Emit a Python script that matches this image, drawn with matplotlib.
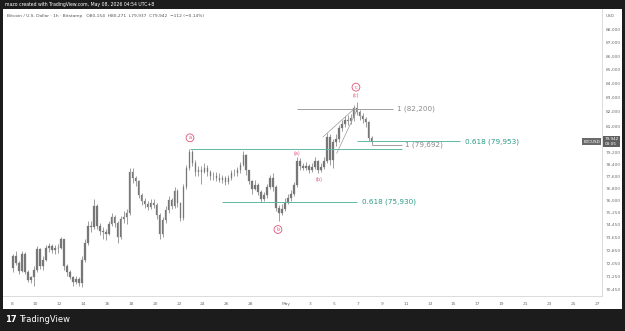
import matplotlib
matplotlib.use('Agg')
import matplotlib.pyplot as plt
from matplotlib.patches import Rectangle
from matplotlib.ticker import FixedLocator, FixedFormatter, NullLocator
from matplotlib.transforms import blended_transform_factory

# ---------------- data (6-hour candles, day 0 = Apr 8 00:00) ----------------
first_open = 71760
closes = [
    72480, 72060, 71580, 72600, 71520, 70990, 71170, 71640, 72910, 71880,
    72240, 72970, 73090, 72850, 72970, 72970, 73520, 71880, 71520, 71170,
    70870, 71050, 70810, 72240, 73270, 74390, 74320, 75650, 74390, 74080,
    74010, 73890, 74510, 74950, 74570, 73700, 74830, 74950, 75200, 77920,
    77460, 77260, 76360, 75970, 75780, 75590, 75840, 75720, 75080, 73890,
    74760, 75400, 76040, 75650, 76610, 75840, 74890, 76870, 78180, 79250,
    78510, 77920, 78050, 77920, 78180, 77920, 77590, 77650, 77520, 77390,
    77460, 77200, 77520, 77850, 77790, 77990, 78380, 79050, 77990, 77260,
    76740, 77000, 76550, 76100, 76360, 76870, 77460, 76870, 75520, 75200,
    75460, 75840, 76170, 76420, 77000, 78640, 78310, 78180, 78310, 78050,
    78250, 78640, 78050, 78250, 78640, 80260, 78710, 79930, 80130, 80880,
    81160, 81430, 81360, 81570, 82270, 81990, 81710, 81500, 81290, 80200,
    79942]
highs = [
    72600, 72780, 72180, 72780, 72720, 71640, 71290, 71880, 73090, 72970,
    72480, 73150, 73330, 73210, 73150, 73210, 73700, 73580, 72000, 71640,
    71290, 71290, 71170, 72480, 73580, 74700, 74700, 76100, 75780, 74570,
    74320, 74200, 74700, 75200, 75080, 74700, 75020, 75330, 75460, 78180,
    78180, 77650, 77390, 76480, 76170, 75970, 76100, 76100, 75840, 75200,
    74950, 75650, 76290, 76170, 76870, 76740, 75910, 77070, 78380, 79450,
    79380, 78710, 78310, 78310, 78510, 78380, 78050, 77920, 77920, 77790,
    77720, 77650, 77720, 78050, 78120, 78250, 78580, 79320, 79120, 78050,
    77330, 77330, 77130, 76680, 76550, 77070, 77720, 77790, 77000, 75720,
    75780, 76170, 76420, 76680, 77200, 78910, 78840, 78510, 78580, 78440,
    78510, 78910, 78710, 78510, 78910, 80540, 80470, 80130, 80470, 81090,
    81430, 81710, 81780, 81850, 82490, 82700, 82130, 81920, 81640, 81360,
    80300]
lows = [
    71520, 71940, 71400, 71520, 71400, 70870, 70810, 70640, 71520, 71700,
    71640, 72180, 72720, 72660, 72600, 72660, 72910, 71640, 71290, 71050,
    70640, 70750, 70640, 70580, 72120, 73150, 74010, 74200, 74200, 73830,
    73580, 73460, 73830, 74390, 74320, 73270, 73580, 74570, 74510, 75080,
    77130, 76940, 76170, 75720, 75520, 75400, 75460, 75520, 74830, 73580,
    73700, 74570, 75200, 75460, 75520, 75590, 74700, 74760, 76740, 78050,
    78310, 77650, 77650, 77070, 77790, 77650, 77330, 77330, 77260, 77200,
    77130, 77000, 77070, 77390, 77590, 77650, 77850, 78310, 77720, 77070,
    76420, 76680, 76360, 75910, 75970, 76170, 76740, 76610, 75330, 74700,
    75080, 75330, 75780, 75970, 76290, 76870, 78050, 77990, 78050, 77850,
    77920, 78120, 77850, 77920, 78120, 78510, 78380, 78180, 79650, 79930,
    80670, 80950, 81090, 81160, 81360, 81780, 81430, 81230, 80950, 79990,
    79700]

ytick_vals = [88000, 87000, 86000, 85000, 84000, 83000, 82000, 81000,
              79200, 78400, 77600, 76800, 76000, 75250, 74450, 73650,
              72850, 72050, 71250, 70450]
ytick_labels = ['88,000', '87,000', '86,000', '85,000', '84,000', '83,000',
                '82,000', '81,000', '79,200', '78,400', '77,600', '76,800',
                '76,000', '75,250', '74,450', '73,650', '72,850', '72,050',
                '71,250', '70,450']
xtick_days = [0, 2, 4, 6, 8, 10, 12, 14, 16, 18, 20, 23, 25, 27, 29, 31, 33,
              35, 37, 39, 41, 43, 45, 47, 49]
xtick_labels = ['8', '10', '12', '14', '16', '18', '20', '22', '24', '26', '28',
                'May', '3', '5', '7', '9', '11', '13', '15', '17', '19', '21',
                '23', '25', '27']

fib_prices = [82200, 79692, 79953, 75930]
fib_texts = ['1 (82,200)', '1 (79,692)', '0.618 (79,953)', '0.618 (75,930)']
wave_a_top = 79450
last_price = 79942

# ---------------- figure ----------------
W, H = 625, 331
fig = plt.figure(figsize=(W / 100, H / 100), dpi=100)
fig.patch.set_facecolor('#1c1c1c')
fig.add_artist(Rectangle((3 / W, (H - 309) / H), 619 / W, 300 / H,
                         transform=fig.transFigure, facecolor='white',
                         edgecolor='none', zorder=0))
ax = fig.add_axes([3 / W, (H - 296) / H, 599 / W, 287 / H])
ax.set_facecolor('white')

candle_col = '#777777'
n = len(closes)
opens = [first_open] + closes[:-1]
xs = [i * 0.25 + 0.125 for i in range(n)]
ax.vlines(xs, lows, highs, color=candle_col, lw=0.5, zorder=3)
bottoms = [min(o, c) for o, c in zip(opens, closes)]
heights = [max(abs(c - o), 8) for o, c in zip(opens, closes)]
ax.bar(xs, heights, bottom=bottoms, width=0.12, color=candle_col,
       edgecolor=candle_col, linewidth=0.2, zorder=4)

ax.set_yscale('log')
ax.set_ylim(70051, 89540)
ax.set_xlim(-0.728, 49.4)

ax.yaxis.set_major_locator(FixedLocator(ytick_vals))
ax.yaxis.set_major_formatter(FixedFormatter(ytick_labels))
ax.yaxis.set_minor_locator(NullLocator())
ax.yaxis.tick_right()
ax.tick_params(axis='y', length=0, pad=3, labelsize=3.2, labelcolor='#707070')
ax.set_xticks(xtick_days)
ax.set_xticklabels(xtick_labels)
ax.tick_params(axis='x', length=0, pad=4, labelsize=3.2, labelcolor='#707070')
for s in ['top', 'left']:
    ax.spines[s].set_visible(False)
for s in ['bottom', 'right']:
    ax.spines[s].set_color('#d6d6d6')
    ax.spines[s].set_linewidth(0.6)

teal = '#5fb8a6'
teal_txt = '#2a9a84'
grey = '#a0a0a0'
grey_txt = '#8a8a8a'
red = '#e2537a'

ax.hlines(wave_a_top, 14.92, 32.66, color=teal, lw=0.7, zorder=5)
fib_spans = [(23.87, 31.91, 32.24), (30.15, 32.66, 32.91),
             (28.90, 37.51, 37.93), (17.60, 28.90, 29.31)]
fib_cols = [(grey, grey_txt), (grey, grey_txt), (teal, teal_txt), (teal, teal_txt)]
for p, t, (x0, x1, xt), (lc, tc) in zip(fib_prices, fib_texts, fib_spans, fib_cols):
    ax.hlines(p, x0, x1, color=lc, lw=0.7, zorder=5)
    ax.text(xt, p, t, color=tc, fontsize=5.2, ha='left', va='center', zorder=6)

ax.plot([26.05, 28.74], [80260, 82270], color='#9a9a9a', lw=0.5, zorder=5)
ax.plot([27.20, 28.90], [79150, 82150], color='#9a9a9a', lw=0.5, zorder=5)

def circ(x, p, s):
    ax.text(x, p, s, color=red, fontsize=3.6, ha='center', va='center', zorder=7,
            bbox=dict(boxstyle='circle,pad=0.28', fc='white', ec=red, lw=0.6))

circ(14.92, 80200, 'a')
circ(22.28, 74150, 'b')
circ(28.81, 83750, 'c')
for x, p, s in [(23.87, 79150, '(a)'), (25.71, 77420, '(b)'), (28.81, 83150, '(c)')]:
    ax.text(x, p, s, color=red, fontsize=3.6, ha='center', va='center', zorder=7)

tr = blended_transform_factory(ax.transAxes, ax.transData)
ax.text(1.004, last_price, '79,942\n03:05', transform=tr, fontsize=3.0,
        color='white', ha='left', va='center', linespacing=1.2, clip_on=False,
        zorder=10, bbox=dict(boxstyle='square,pad=0.35', fc='#5f5f5f', ec='none'))
ax.text(0.997, last_price, 'BTCUSD', transform=tr, fontsize=3.0, color='white',
        ha='right', va='center', clip_on=False, zorder=10,
        bbox=dict(boxstyle='square,pad=0.3', fc='#6a6a6a', ec='none'))

fig.text(5 / W, 1 - 4.5 / H, 'mazo created with TradingView.com, May 08, 2026 04:54 UTC+8',
         color='white', fontsize=3.3, va='center', ha='left')
fig.text(7 / W, 1 - 16 / H,
         'Bitcoin / U.S. Dollar · 1h · Bitstamp   O80,154  H80,271  L79,937  C79,942  −112 (−0.14%)',
         color='#555555', fontsize=3.2, va='center', ha='left')
fig.text(610 / W, 1 - 16 / H, 'USD', color='#707070', fontsize=3.2, va='center', ha='center')
fig.text(5 / W, 1 - 320 / H, '17', color='white', fontsize=6.0, fontweight='bold',
         va='center', ha='left')
fig.text(19 / W, 1 - 320 / H, 'TradingView', color='white', fontsize=6.0,
         va='center', ha='left')

fig.savefig('out.png', dpi=100, facecolor=fig.get_facecolor())
